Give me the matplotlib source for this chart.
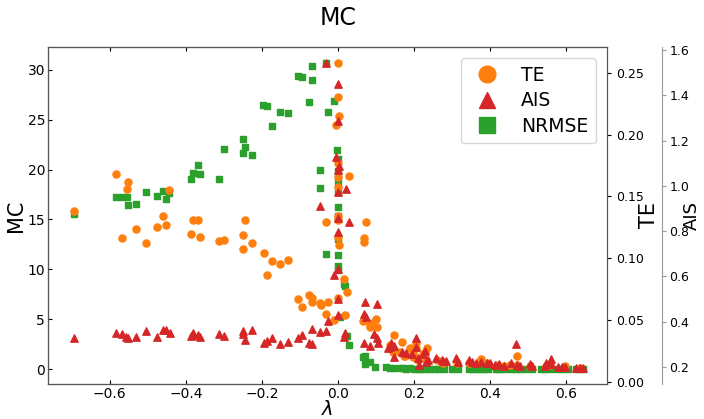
import numpy as np
import matplotlib
matplotlib.use("Agg")
import matplotlib.pyplot as plt
from matplotlib.lines import Line2D

# lambda / MC (plotted as green squares, labelled NRMSE in the legend)
mc_lam = [-0.695, -0.585, -0.569, -0.556, -0.553, -0.532, -0.505, -0.476, -0.461, -0.451,
          -0.443, -0.386, -0.380, -0.369, -0.363, -0.312, -0.300, -0.249, -0.244, -0.249,
          -0.226, -0.196, -0.186, -0.172, -0.151, -0.130, -0.104, -0.095, -0.077, -0.068,
          -0.068, -0.030, -0.027, -0.011, -0.047, -0.047, -0.002, 0.0, 0.0, 0.0,
          0.0, 0.0, 0.0, 0.0, -0.030, 0.0, 0.001, 0.0, 0.016, 0.020,
          0.005, 0.023, 0.029, 0.071, 0.067, 0.071, 0.084, 0.097,
          0.128, 0.137, 0.148, 0.163, 0.172, 0.180, 0.190, 0.200, 0.210, 0.220,
          0.230, 0.240, 0.255, 0.265, 0.280, 0.300, 0.315, 0.345, 0.355, 0.365,
          0.375, 0.385, 0.395, 0.415, 0.425, 0.437, 0.455, 0.470, 0.480, 0.495,
          0.510, 0.535, 0.545, 0.560, 0.580, 0.590, 0.605, 0.628, 0.637, 0.646]
mc_val = [15.5, 17.25, 17.3, 17.3, 16.5, 16.55, 17.8, 17.4, 17.9, 17.1,
          17.7, 19.1, 19.7, 20.5, 19.6, 19.1, 22.1, 23.1, 22.3, 21.7,
          21.5, 26.5, 26.4, 24.4, 25.8, 25.7, 29.4, 29.3, 26.8, 30.4,
          29.0, 30.7, 25.8, 26.9, 20.0, 18.2, 22.0, 21.1, 19.9, 18.8,
          17.8, 16.2, 15.3, 13.0, 11.5, 11.4, 10.3, 9.9, 8.5, 8.3,
          5.2, 3.3, 2.4, 1.3, 1.2, 0.5, 0.7, 0.2,
          0.25, 0.15, 0.12, 0.1, 0.08, 0.05, 0.06, 0.05, 0.04, 0.05,
          0.04, 0.03, 0.04, 0.03, 0.03, 0.02, 0.03, 0.02, 0.02, 0.02,
          0.02, 0.02, 0.01, 0.02, 0.01, 0.01, 0.01, 0.01, 0.01, 0.01,
          0.01, 0.01, 0.01, 0.01, 0.01, 0.0, 0.01, 0.0, 0.0, 0.0]

# TE
te_lam = [-0.695, -0.585, -0.553, -0.556, -0.569, -0.532, -0.505, -0.476, -0.461, -0.451,
          -0.443, -0.386, -0.380, -0.369, -0.363, -0.312, -0.300, -0.249, -0.249, -0.244,
          -0.226, -0.195, -0.186, -0.172, -0.151, -0.130, -0.104, -0.094, -0.077, -0.068,
          -0.068, -0.047, -0.045, -0.031, -0.031, -0.027, -0.011, -0.006, 0.0, 0.0,
          0.003, 0.0, 0.0, 0.0, 0.029, 0.0, 0.001, 0.0, 0.003, 0.016,
          0.023, 0.0, 0.019, 0.074, 0.070, 0.070, 0.067, 0.084, 0.089, 0.100,
          0.086, 0.102, 0.148, 0.148, 0.146, 0.137, 0.170, 0.205, 0.191, 0.197,
          0.205, 0.235, 0.163, 0.176, 0.174, 0.197, 0.211, 0.229, 0.225, 0.233,
          0.260, 0.277, 0.314, 0.346, 0.378, 0.393, 0.419, 0.437, 0.454, 0.472,
          0.472, 0.507, 0.547, 0.558, 0.597, 0.637]
te_val = [0.138, 0.168, 0.162, 0.156, 0.116, 0.124, 0.112, 0.125, 0.1345, 0.127,
          0.1556, 0.1197, 0.1313, 0.1313, 0.1172, 0.1138, 0.1146, 0.1186, 0.1073, 0.1313,
          0.1121, 0.1045, 0.0867, 0.098, 0.0951, 0.0986, 0.067, 0.0605, 0.0705, 0.0676,
          0.0646, 0.0635, 0.0619, 0.1294, 0.0549, 0.0648, 0.0498, 0.208, 0.2585, 0.2307,
          0.2156, 0.1775, 0.158, 0.1656, 0.1667, 0.1345, 0.131, 0.1175, 0.111, 0.0832,
          0.0724, 0.0678, 0.0538, 0.129, 0.116, 0.113, 0.0494, 0.046, 0.0473, 0.0506,
          0.0446, 0.044, 0.0378, 0.0257, 0.0243, 0.0297, 0.0324, 0.031, 0.027, 0.023,
          0.027, 0.027, 0.0243, 0.0208, 0.021, 0.020, 0.0176, 0.0243, 0.0224, 0.0176,
          0.0176, 0.0149, 0.0149, 0.0149, 0.0182, 0.0149, 0.0135, 0.0122, 0.0135, 0.0203,
          0.0135, 0.0127, 0.0122, 0.0135, 0.0127, 0.0109]

# AIS
ais_lam = [-0.695, -0.585, -0.569, -0.558, -0.552, -0.531, -0.505, -0.476, -0.461, -0.451,
           -0.442, -0.386, -0.380, -0.369, -0.363, -0.312, -0.300, -0.249, -0.249, -0.244,
           -0.226, -0.195, -0.186, -0.172, -0.151, -0.130, -0.104, -0.095, -0.077, -0.068,
           -0.068, -0.047, -0.030, -0.027, -0.030, -0.046, -0.010, 0.0, 0.001, 0.0,
           -0.006, 0.004, 0.0, 0.022, 0.0, 0.0, 0.029, 0.0, 0.0, 0.0,
           0.018, 0.017, 0.071, 0.102, 0.069, 0.075, 0.096, 0.104, 0.105, 0.068,
           0.086, 0.139, 0.148, 0.148, 0.132, 0.137, 0.205, 0.205, 0.170, 0.179,
           0.194, 0.229, 0.225, 0.211, 0.213, 0.233, 0.237, 0.258, 0.277, 0.286,
           0.273, 0.311, 0.317, 0.346, 0.354, 0.363, 0.378, 0.393, 0.400, 0.413,
           0.424, 0.437, 0.455, 0.470, 0.472, 0.479, 0.507, 0.512, 0.545, 0.549,
           0.560, 0.562, 0.580, 0.589, 0.597, 0.628, 0.637, 0.646]
ais_val = [0.326, 0.348, 0.343, 0.330, 0.326, 0.331, 0.357, 0.333, 0.361, 0.362,
           0.349, 0.336, 0.348, 0.340, 0.330, 0.343, 0.336, 0.359, 0.346, 0.319,
           0.361, 0.304, 0.314, 0.328, 0.302, 0.309, 0.327, 0.342, 0.304, 0.299,
           0.365, 0.355, 0.357, 0.404, 1.545, 0.910, 0.604, 0.631, 1.450, 1.289,
           1.127, 1.089, 1.069, 0.986, 0.972, 0.857, 0.842, 0.795, 0.498, 0.429,
           0.348, 0.333, 0.486, 0.479, 0.432, 0.419, 0.343, 0.326, 0.306, 0.306,
           0.293, 0.306, 0.292, 0.244, 0.284, 0.286, 0.328, 0.286, 0.266, 0.259,
           0.255, 0.269, 0.256, 0.237, 0.208, 0.222, 0.230, 0.237, 0.225, 0.225,
           0.230, 0.237, 0.222, 0.230, 0.222, 0.215, 0.222, 0.218, 0.215, 0.207,
           0.212, 0.203, 0.215, 0.300, 0.207, 0.203, 0.212, 0.204, 0.204, 0.215,
           0.235, 0.211, 0.197, 0.197, 0.197, 0.193, 0.193, 0.193]

c_te, c_ais, c_mc = "#ff7f0e", "#d62728", "#2ca02c"

fig = plt.figure(figsize=(7.04, 4.19), dpi=100)
host = fig.add_axes([0.068, 0.0835, 0.794, 0.8045])
par1 = host.twinx()
par2 = host.twinx()
par2.spines["right"].set_position(("outward", 40))

host.scatter(mc_lam, mc_val, marker="s", s=24, color=c_mc)
par1.scatter(te_lam, te_val, marker="o", s=26, color=c_te)
par2.scatter(ais_lam, ais_val, marker="^", s=28, color=c_ais)

host.set_xlim(-0.763, 0.708)
host.set_ylim(-1.5, 32.3)
par1.set_ylim(-0.002, 0.2712)
par2.set_ylim(0.1235, 1.6146)
host.set_yticks([0, 5, 10, 15, 20, 25, 30])
par1.set_yticks([0, 0.05, 0.10, 0.15, 0.20, 0.25])
par2.set_yticks([0.2, 0.4, 0.6, 0.8, 1.0, 1.2, 1.4, 1.6])

for a in (host, par1, par2):
    for sp in a.spines.values():
        sp.set_color("#555555")
par2.spines["right"].set_color("#999999")

host.tick_params(axis="both", direction="in", labelsize=10, top=True, length=3, pad=2)
par1.tick_params(axis="y", labelsize=9, length=3)
par2.tick_params(axis="y", labelsize=9, length=3, pad=2, color="#999999")

host.set_xlabel(r"$\lambda$", fontsize=14)
host.xaxis.set_label_coords(0.5, -0.046)
host.set_ylabel("MC", fontsize=15)
host.yaxis.set_label_coords(-0.04, 0.5)
par1.set_ylabel("TE", fontsize=15)
par1.yaxis.set_label_coords(1.058, 0.5)
par2.set_ylabel("AIS", fontsize=13)
par2.yaxis.set_label_coords(1.136, 0.5)
fig.suptitle("MC", fontsize=17, x=0.48, y=0.985)

handles = [Line2D([], [], ls="", marker="o", ms=12, color=c_te),
           Line2D([], [], ls="", marker="^", ms=12, color=c_ais),
           Line2D([], [], ls="", marker="s", ms=11, color=c_mc)]
par2.legend(handles, ["TE", "AIS", "NRMSE"], loc="upper right", fontsize=13.5,
            labelspacing=0.35, borderaxespad=0.6)

fig.savefig("out.png", dpi=100)
